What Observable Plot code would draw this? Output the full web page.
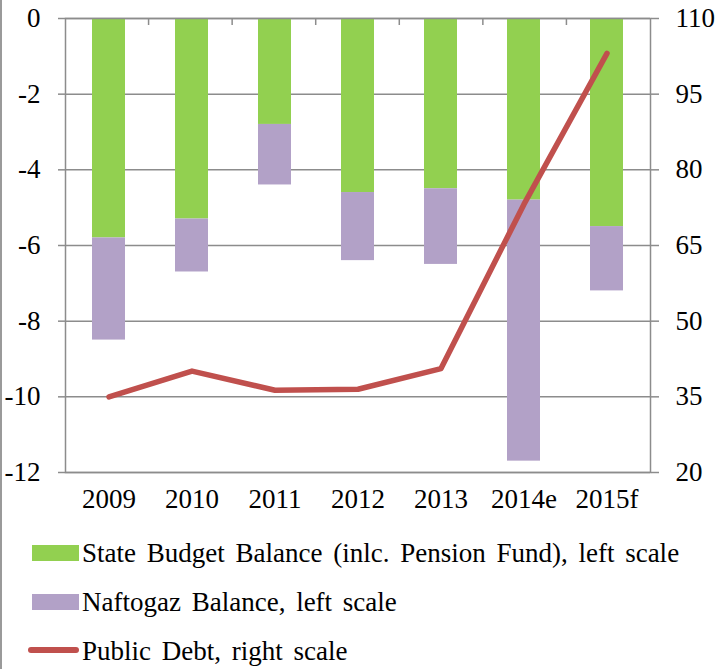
<!DOCTYPE html>
<html>
<head>
<meta charset="utf-8">
<script src="https://cdn.jsdelivr.net/npm/d3@7"></script>
<script src="https://cdn.jsdelivr.net/npm/@observablehq/plot@0.6"></script>
<style>
  body { margin: 0; background: #fff; }
  #wrap { position: relative; width: 718px; height: 669px; overflow: hidden; background: #fff;
          font-family: "Liberation Serif", "Times New Roman", serif; }
  #chart { position: absolute; left: 0; top: 0; }
  #chart svg text { font-family: "Liberation Serif", "Times New Roman", serif; }
  #border { position: absolute; left: 0; top: 0; width: 2px; height: 669px; background: #9a9a9a; }
  .sw { position: absolute; }
  .lt { position: absolute; left: 82px; font-size: 27px; line-height: 27px; color: #000; white-space: nowrap; word-spacing: 4px; }
</style>
</head>
<body>
<div id="wrap">
  <div id="chart"></div>
  <div id="border"></div>
  <div id="legend"></div>
</div>
<script>
const years = ["2009", "2010", "2011", "2012", "2013", "2014e", "2015f"];
const stateBudget = [-5.8, -5.3, -2.8, -4.6, -4.5, -4.8, -5.5];
const naftogaz = [-2.7, -1.4, -1.6, -1.8, -2.0, -6.9, -1.7];
const publicDebt = [35.0, 40.1, 36.3, 36.5, 40.6, 73.2, 103.1];
const leftTicks = [0, -2, -4, -6, -8, -10, -12];
const rightTicks = [20, 35, 50, 65, 80, 95, 110];
const seriesNames = ["State Budget Balance (inlc. Pension Fund), left scale", "Naftogaz Balance, left scale", "Public Debt, right scale"];
const colors = ["#92D050", "#B2A1C7", "#C0504D"];

const toLeft = d => -12 + (d - 20) * 12 / 90;
const fromLeft = v => 20 + (v + 12) * 90 / 12;

const rows = years.map((year, i) => ({
  year, state: stateBudget[i], naf: naftogaz[i], total: stateBudget[i] + naftogaz[i], debt: publicDebt[i]
}));

const GRID = "#8c8c8c";
const FONT = '"Liberation Serif", "Times New Roman", serif';

function boundaryTicks(index, scales, values, dims) {
  const g = d3.create("svg:g");
  const n = years.length;
  const step = (dims.width - dims.marginLeft - dims.marginRight) / n;
  const y0 = dims.marginTop;
  for (let i = 1; i < n; i++) {
    const x = dims.marginLeft + i * step;
    g.append("line").attr("x1", x).attr("x2", x).attr("y1", y0).attr("y2", y0 + 7)
      .attr("stroke", GRID).attr("stroke-width", 1.5);
  }
  return g.node();
}

const chart = Plot.plot({
  width: 718,
  height: 524,
  marginLeft: 65,
  marginRight: 68,
  marginTop: 18,
  marginBottom: 52,
  style: { fontFamily: FONT, fontSize: "27px", color: "#000", background: "#fff", overflow: "visible" },
  x: { type: "band", domain: years, paddingInner: 0.6, paddingOuter: 0.3, axis: null, label: null },
  y: { domain: [-12, 0], axis: null, label: null },
  marks: [
    Plot.ruleY(leftTicks, { stroke: GRID, strokeWidth: 1.5 }),
    Plot.barY(rows, { x: "year", y1: 0, y2: "state", fill: colors[0] }),
    Plot.barY(rows, { x: "year", y1: "state", y2: "total", fill: colors[1] }),
    Plot.frame({ stroke: GRID, strokeWidth: 1.5 }),
    boundaryTicks,
    Plot.axisY(leftTicks, { anchor: "left", label: null, tickSize: 7, tickPadding: 18, stroke: GRID, strokeWidth: 1.5, fontFamily: FONT, fontSize: 27, tickFormat: d => String(d) }),
    Plot.axisY(rightTicks.map(toLeft), { anchor: "right", label: null, tickSize: 8, tickPadding: 17, stroke: GRID, strokeWidth: 1.5, fontFamily: FONT, fontSize: 27, tickFormat: v => String(Math.round(fromLeft(v))) }),
    Plot.axisX({ label: null, tickSize: 0, tickPadding: 16, fontFamily: FONT, fontSize: 27 }),
    Plot.line(rows, { x: "year", y: d => toLeft(d.debt), stroke: colors[2], strokeWidth: 5.5, strokeLinecap: "round", strokeLinejoin: "round" })
  ]
});
document.getElementById("chart").appendChild(chart);

// legend
const legend = document.getElementById("legend");
const baselines = [563, 612, 661];
seriesNames.forEach((name, i) => {
  const sw = document.createElement("div");
  sw.className = "sw";
  if (i < 2) {
    Object.assign(sw.style, { left: "32px", width: "47px", top: (baselines[i] - 18) + "px", height: "16px", background: colors[i] });
  } else {
    Object.assign(sw.style, { left: "28px", width: "51px", top: (baselines[i] - 14) + "px", height: "6px", background: colors[i], borderRadius: "3px" });
  }
  legend.appendChild(sw);
  const t = document.createElement("div");
  t.className = "lt";
  t.textContent = name;
  t.style.top = (baselines[i] - 22.6) + "px";
  legend.appendChild(t);
});
</script>
</body>
</html>
